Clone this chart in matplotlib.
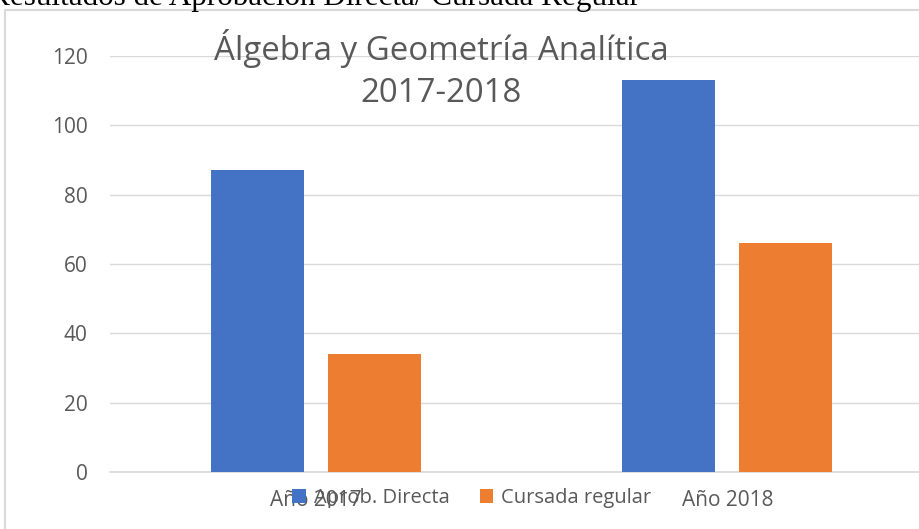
import numpy as np
import matplotlib
matplotlib.use("Agg")
import matplotlib.pyplot as plt
from matplotlib.patches import Rectangle

# data
years = ["Año 2017", "Año 2018"]
aprob_directa = [87, 113]
cursada_regular = [34, 66]
series_names = ["Aprob. Directa", "Cursada regular"]
yticks = [0, 20, 40, 60, 80, 100, 120]

W, H = 920, 529
fig = plt.figure(figsize=(W / 100, H / 100), dpi=100)

# axes: plot area x 110..933 px, y 56..472 px (right side runs off the page)
ax = fig.add_axes([110 / W, (H - 472) / H, 823 / W, 416 / H])

x = np.arange(len(years))
bw = 0.226
off = 0.142
ax.bar(x - off, aprob_directa, bw, color="#4472c4", label=series_names[0], zorder=3)
ax.bar(x + off, cursada_regular, bw, color="#ed7d31", label=series_names[1], zorder=3)

ax.set_xlim(-0.5, 1.5)
ax.set_ylim(0, 120)
ax.set_yticks(yticks)
ax.set_xticks(x)
ax.set_xticklabels(years)
ax.grid(axis="y", color="#d9d9d9", linewidth=1, zorder=0)
for s in ["top", "right", "left"]:
    ax.spines[s].set_visible(False)
ax.spines["bottom"].set_color("#d9d9d9")
ax.spines["bottom"].set_linewidth(1.2)
ax.tick_params(axis="both", length=0, labelsize=15, colors="#595959")
ax.tick_params(axis="y", pad=16)
ax.tick_params(axis="x", pad=13)
for lbl in ax.get_xticklabels() + ax.get_yticklabels():
    lbl.set_family("Open Sans")

# chart title
fig.text(441 / W, 1 - 102 / H, "Álgebra y Geometría Analítica\n2017-2018",
         ha="center", va="baseline", fontsize=23.8, color="#595959",
         family="Open Sans", linespacing=1.38)

# legend
h, l = ax.get_legend_handles_labels()
fig.legend(h, l, loc="center left", bbox_to_anchor=(292 / W, 1 - 498 / H), ncol=2,
           frameon=False, handlelength=0.68, handleheight=0.68,
           handletextpad=0.4, columnspacing=1.5, borderpad=0, borderaxespad=0,
           prop={"family": "Open Sans", "size": 14.5}, labelcolor="#595959")

# chart frame
fig.patches.append(Rectangle((5 / W, -0.1), 1.2, 1.1 - 10 / H, transform=fig.transFigure,
                             fill=False, edgecolor="#d9d9d9", linewidth=1.5))

# document text cut at top
fig.text(-11 / W, 1 - 5 / H, "Resultados de Aprobación Directa/ Cursada Regular",
         ha="left", va="baseline", fontsize=22.4, family="Liberation Serif", color="black")

fig.savefig("out.png", dpi=100)
